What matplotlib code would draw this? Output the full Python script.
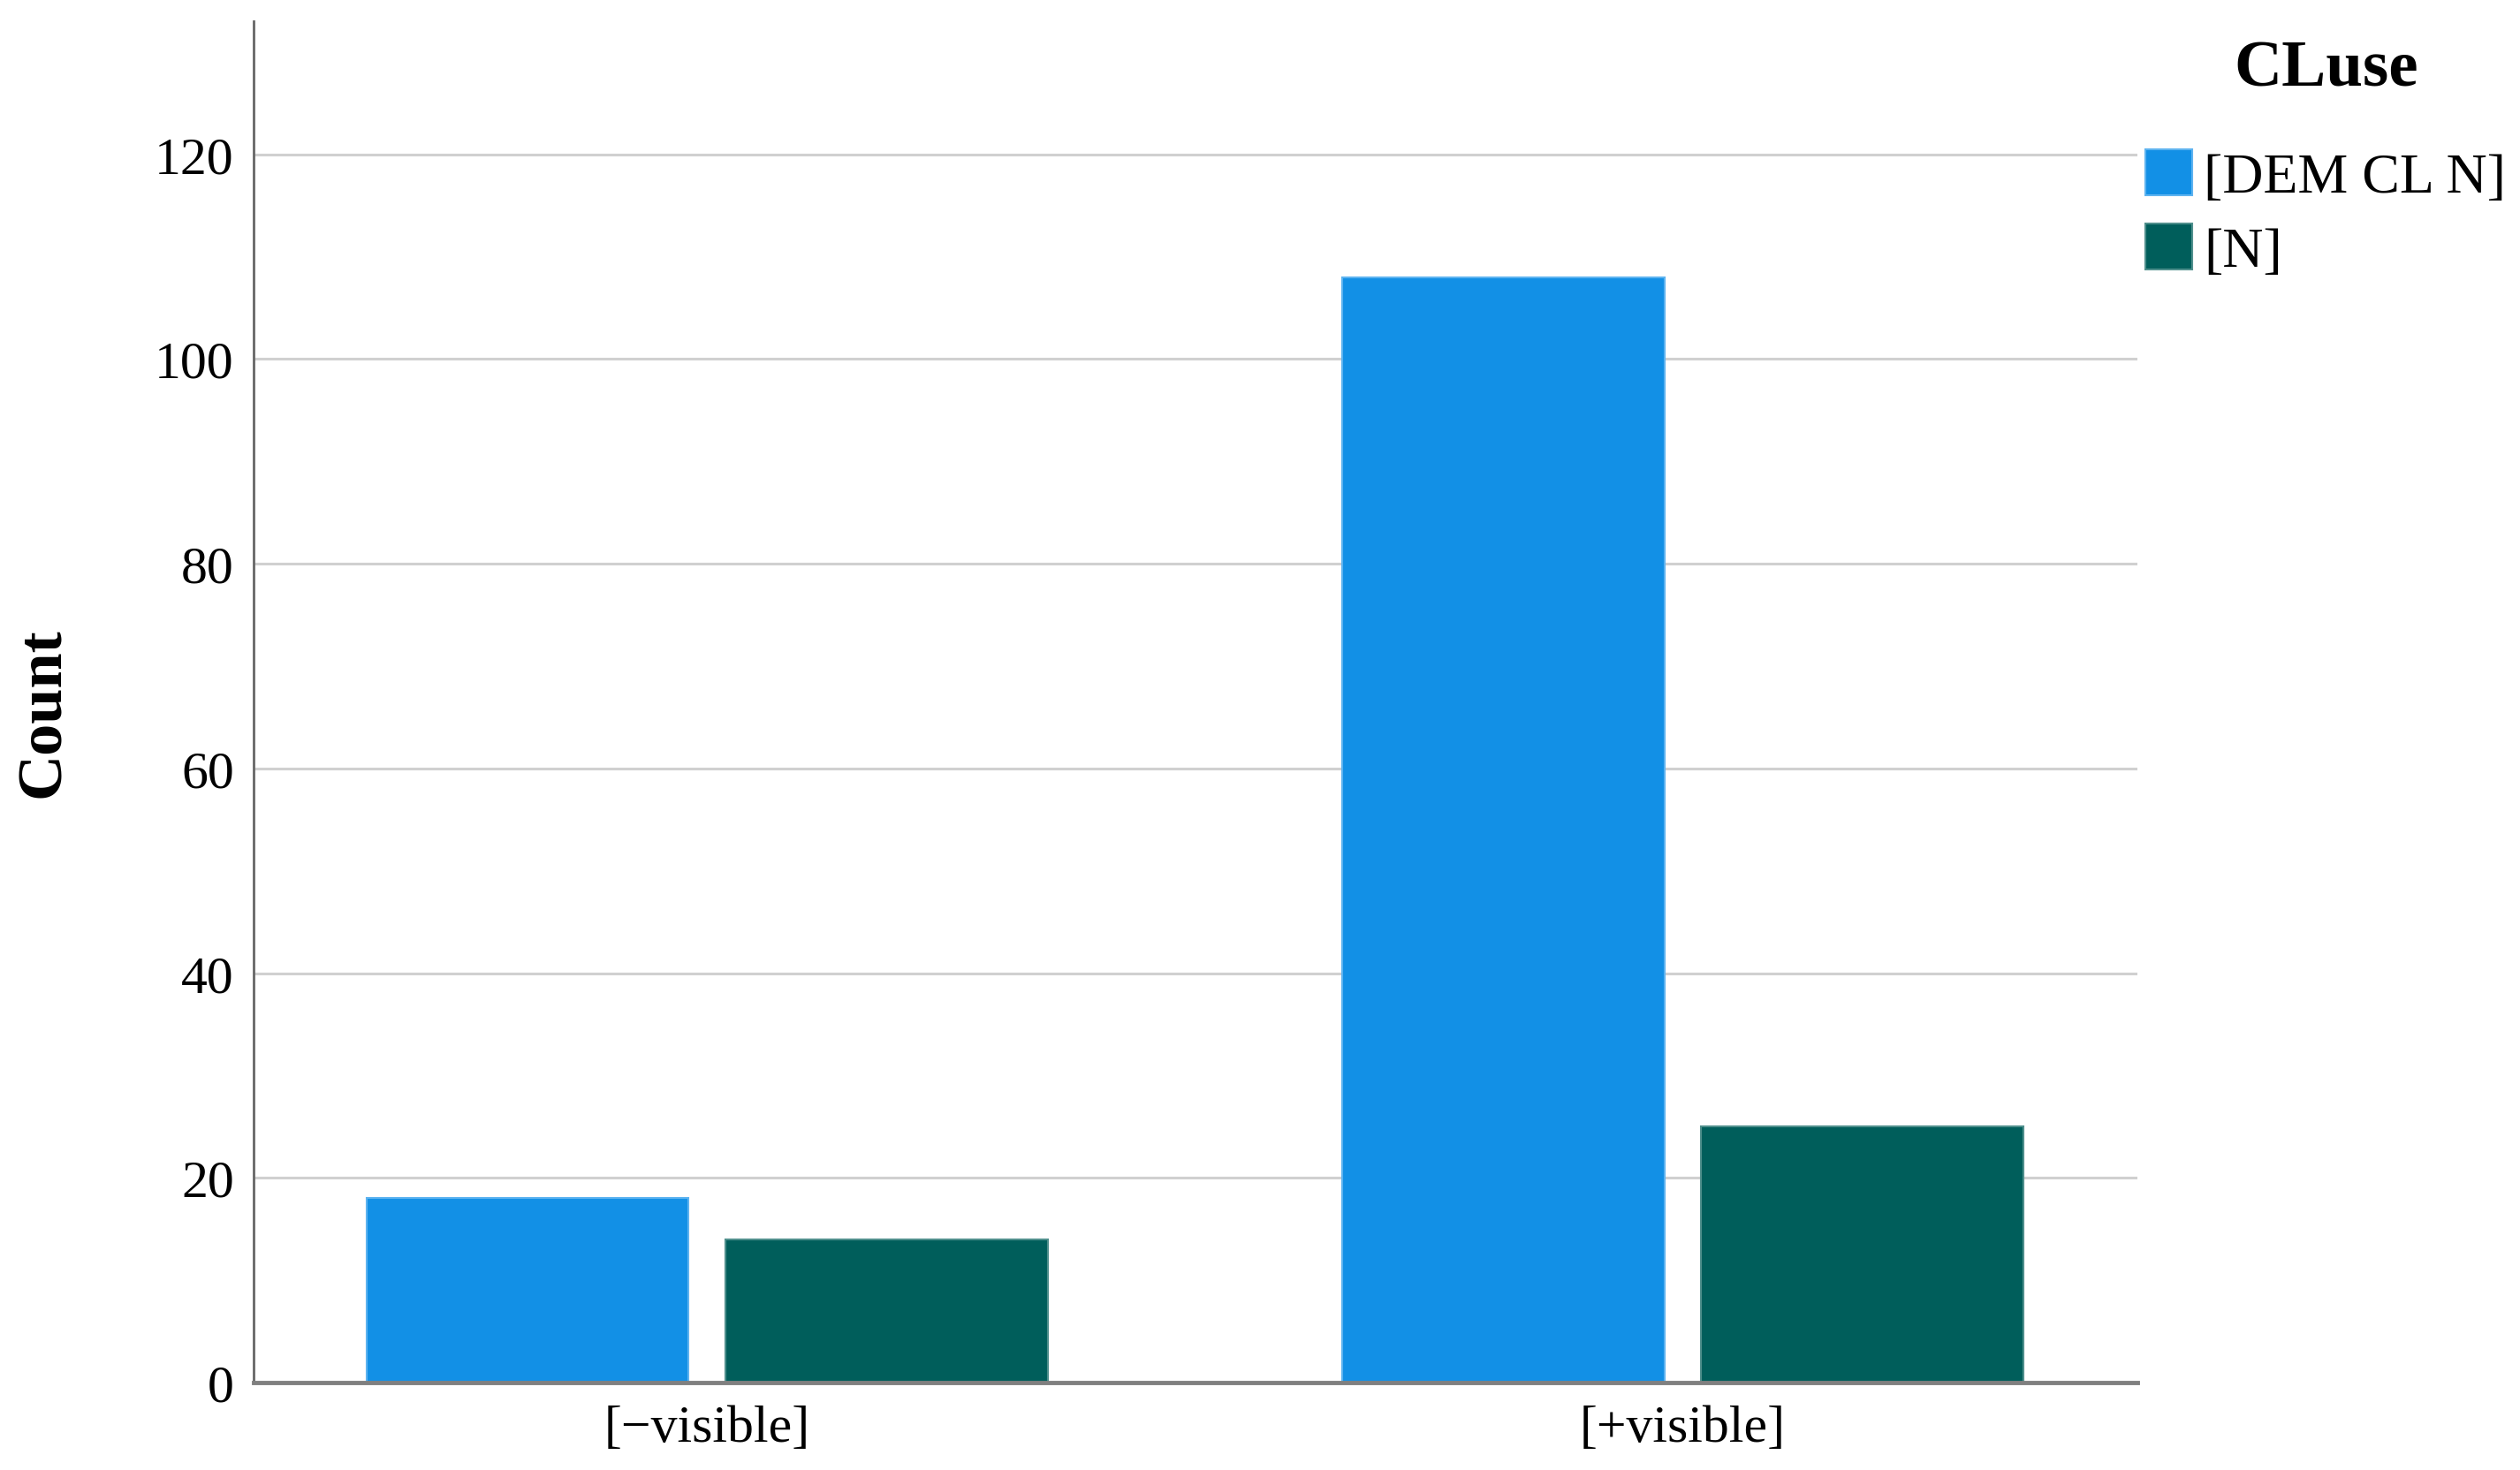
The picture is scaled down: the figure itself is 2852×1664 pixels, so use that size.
import numpy as np
import matplotlib
matplotlib.use("Agg")
import matplotlib.pyplot as plt

# ── DATA ──────────────────────────────────────────────────────────────────────
categories   = ["[\u2212visible]", "[+visible]"]
series_names = ["[DEM CL N]", "[N]"]
dem_cl_n     = [18, 108]
n_only       = [14, 25]
y_ticks      = [0, 20, 40, 60, 80, 100, 120]

# ── STYLE ─────────────────────────────────────────────────────────────────────
BLUE, BLUE_EDGE = "#1290E6", "#5DB3F0"
TEAL, TEAL_EDGE = "#005E5B", "#4F8F8C"
FONT = "Liberation Serif"
plt.rcParams["font.family"] = [FONT, "DejaVu Serif"]

W, H, DPI = 2852, 1665, 100
fig = plt.figure(figsize=(W / DPI, H / DPI), dpi=DPI)
fig.patch.set_facecolor("white")

# axes box in pixels: left 287, right 2419, top 25, bottom 1566
ax = fig.add_axes([287 / W, 1 - 1566 / H, (2419 - 287) / W, (1566 - 25) / H])

x = np.arange(len(categories))
bw, off = 0.33, 0.184
b1 = ax.bar(x - off, dem_cl_n, width=bw, color=BLUE, edgecolor=BLUE_EDGE,
            linewidth=1.5, zorder=3, label=series_names[0])
b2 = ax.bar(x + off, n_only, width=bw, color=TEAL, edgecolor=TEAL_EDGE,
            linewidth=1.5, zorder=3, label=series_names[1])

ax.set_xlim(-0.465, 1.466)
ax.set_ylim(0, 133)
ax.set_yticks(y_ticks)
ax.set_xticks(x)
ax.set_xticklabels(categories)
ax.tick_params(axis="both", length=0, labelsize=43, colors="black")
ax.tick_params(axis="y", pad=16)
ax.tick_params(axis="x", pad=18)

ax.yaxis.grid(True, color="#D0D0D0", linewidth=2.2, zorder=0)
ax.set_axisbelow(True)

for s in ("top", "right"):
    ax.spines[s].set_visible(False)
ax.spines["left"].set_color("#666666")
ax.spines["left"].set_linewidth(2.0)
ax.spines["bottom"].set_color("#808080")
ax.spines["bottom"].set_linewidth(3.5)
ax.spines["bottom"].set_zorder(4)

ax.set_ylabel("Count", fontsize=52, fontweight="bold")
ax.yaxis.set_label_coords(-0.096, 0.493)

# ── LEGEND ────────────────────────────────────────────────────────────────────
fig.text(2633 / W, 1 - 79 / H, "CLuse", fontsize=54, fontweight="bold",
         ha="center", va="center")
ax.legend(handles=[b1, b2], loc="upper left",
          bbox_to_anchor=(2428 / W, 1 - 170 / H), bbox_transform=fig.transFigure,
          frameon=False, borderpad=0, borderaxespad=0, fontsize=46,
          handlelength=0.83, handleheight=0.88, handletextpad=0.2,
          labelspacing=0.34)

fig.savefig("out.png", dpi=DPI, facecolor="white")
